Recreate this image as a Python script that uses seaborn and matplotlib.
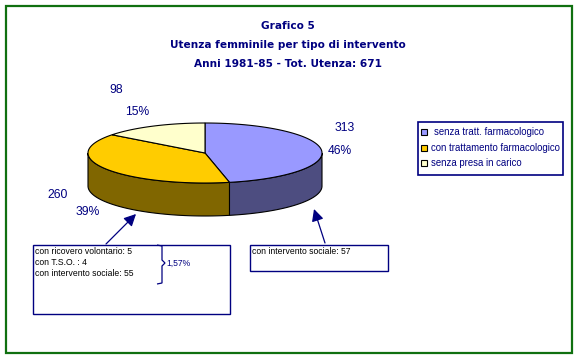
import numpy as np
import matplotlib
matplotlib.use("Agg")
import matplotlib.pyplot as plt
import seaborn as sns
from matplotlib.patches import Polygon, Rectangle, FancyArrowPatch
from matplotlib.path import Path
from matplotlib.patches import PathPatch

sns.set_theme(style="white")
plt.rcParams['font.family'] = ['Liberation Sans', 'DejaVu Sans']

# ---- data ----
categories = ["senza tratt. farmacologico", "con trattamento farmacologico", "senza presa in carico"]
values = [313, 260, 98]
pct_labels = ["46%", "39%", "15%"]
top_colors = ["#9999FF", "#FFCC00", "#FFFFCC"]
side_colors = ["#4D4D80", "#806600", "#80806A"]
title_lines = ["Grafico 5", "Utenza femminile per tipo di intervento", "Anni 1981-85 - Tot. Utenza: 671"]
left_box_lines = ["con ricovero volontario: 5", "con T.S.O. : 4", "con intervento sociale: 55"]
left_box_pct = "1,57%"
right_box_lines = ["con intervento sociale: 57"]

W, H = 577, 358
fig = plt.figure(figsize=(W / 100, H / 100), dpi=100)
ax = fig.add_axes([0, 0, 1, 1])
ax.set_xlim(0, W)
ax.set_ylim(H, 0)
ax.axis("off")

navy = "#000080"

# outer frame
ax.add_patch(Rectangle((5.5, 5.5), 566, 347, fill=False, ec="#107010", lw=1.6))

# title
for i, t in enumerate(title_lines):
    ax.text(288, 26 + i * 19, t, ha="center", va="center", color=navy,
            fontsize=7.6, fontweight="bold", family=["DejaVu Sans"])

# pie geometry
cx, cy, rx, ry, depth = 205, 153, 117, 30, 33
total = sum(values)
angles = [90]
for v in values:
    angles.append(angles[-1] - v / total * 360)

def rim(t1, t2, n=120, dy=0):
    th = np.radians(np.linspace(t1, t2, n))
    return np.column_stack([cx + rx * np.cos(th), cy - ry * np.sin(th) + dy])

# sides (front half)
for i, v in enumerate(values):
    a_start, a_end = angles[i], angles[i + 1]
    segs = []
    for shift in (0, 360):
        lo = max(a_end + shift, -180)
        hi = min(a_start + shift, 0)
        if lo < hi:
            segs.append((lo, hi))
    for lo_, hi_ in segs:
        top = rim(hi_, lo_)
        bot = rim(lo_, hi_, dy=depth)
        poly = np.vstack([top, bot])
        ax.add_patch(Polygon(poly, closed=True, fc=side_colors[i], ec="black", lw=0.8, zorder=2))

# top faces
for i, v in enumerate(values):
    pts = rim(angles[i], angles[i + 1])
    poly = np.vstack([[cx, cy], pts])
    ax.add_patch(Polygon(poly, closed=True, fc=top_colors[i], ec="black", lw=0.8, zorder=3))

# data labels
lab_fs = 8.7
ax.text(345, 128, str(values[0]), color=navy, fontsize=lab_fs, ha="center", va="center")
ax.text(340, 151, pct_labels[0], color=navy, fontsize=lab_fs, ha="center", va="center")
ax.text(58, 195, str(values[1]), color=navy, fontsize=lab_fs, ha="center", va="center")
ax.text(88, 212, pct_labels[1], color=navy, fontsize=lab_fs, ha="center", va="center")
ax.text(116, 90, str(values[2]), color=navy, fontsize=lab_fs, ha="center", va="center")
ax.text(137, 112, pct_labels[2], color=navy, fontsize=lab_fs, ha="center", va="center")

# legend
ax.add_patch(Rectangle((417.5, 121.5), 145, 53, fill=False, ec=navy, lw=1.2))
leg_y = [132, 148, 163]
for i, c in enumerate(categories):
    ax.add_patch(Rectangle((421, leg_y[i] - 3), 6, 6, fc=top_colors[i], ec="black", lw=0.8))
    ax.text(434 if i == 0 else 431, leg_y[i], c, color=navy, fontsize=6.9, va="center", ha="left")

# left annotation box
ax.add_patch(Rectangle((32.5, 244.5), 197, 69, fill=False, ec=navy, lw=1.0))
for i, t in enumerate(left_box_lines):
    ax.text(35, 251 + i * 11.5, t, color="black", fontsize=6.2, va="center", ha="left")
# brace
brace = Path([(157, 245), (162, 246), (162, 260), (165, 263),
              (162, 266), (162, 283), (157, 284)],
             [Path.MOVETO, Path.LINETO, Path.LINETO, Path.LINETO,
              Path.LINETO, Path.LINETO, Path.LINETO])
ax.add_patch(PathPatch(brace, fill=False, ec=navy, lw=0.9))
ax.text(166, 263, left_box_pct, color=navy, fontsize=6.2, va="center", ha="left")

# right annotation box
ax.add_patch(Rectangle((249.5, 244.5), 138, 26, fill=False, ec=navy, lw=1.0))
ax.text(252, 251, right_box_lines[0], color="black", fontsize=6.2, va="center", ha="left")

# arrows
for (x0, y0), (x1, y1) in [((106, 244), (136, 214)), ((325, 243), (314, 209))]:
    ax.add_patch(FancyArrowPatch((x0, y0), (x1, y1), arrowstyle="-|>,head_length=6,head_width=3",
                                 color=navy, lw=0.9, mutation_scale=1.2, shrinkA=0, shrinkB=0))

fig.savefig("out.png", dpi=100)
